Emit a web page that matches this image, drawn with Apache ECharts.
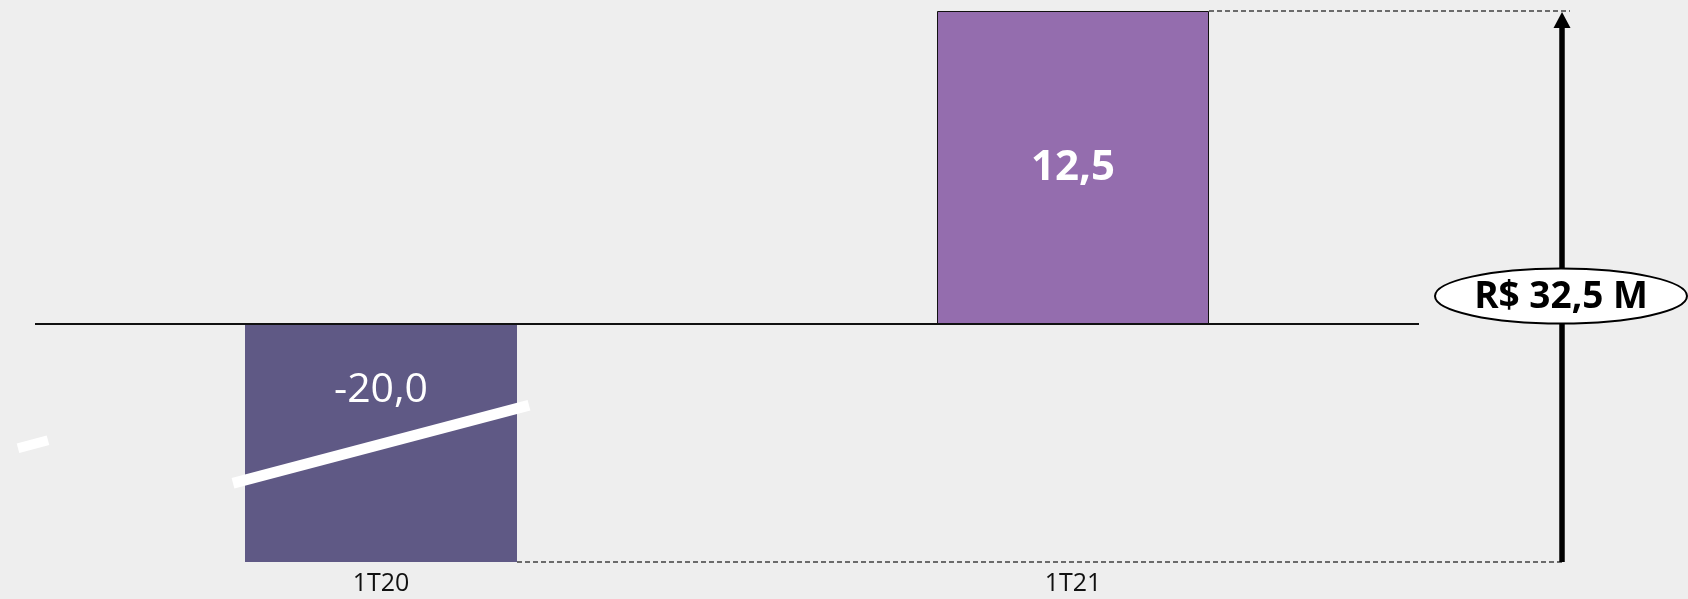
<!DOCTYPE html>
<html>
<head>
<meta charset="utf-8">
<script src="https://cdn.jsdelivr.net/npm/echarts@6/dist/echarts.min.js"></script>
<style>
  html, body { margin: 0; padding: 0; background: #eeeeee; }
  #chart { width: 1688px; height: 599px; }
</style>
</head>
<body>
<div id="chart"></div>
<script>
// dados
const categories = ['1T20', '1T21'];
const values = [-20.0, 12.5];
const totalValue = 32.5;
const axisBreak = [-15.3, -4.8];

const barColors = ['#5f5985', '#946dae'];
const fmt = v => v.toFixed(1).replace('.', ',');

const chart = echarts.init(document.getElementById('chart'));
const barWidth = 272;
const font = '"Open Sans", "Noto Sans", sans-serif';

chart.setOption({
  animation: false,
  backgroundColor: '#eeeeee',
  grid: { left: 35, right: 269, top: 11, bottom: 37 },
  xAxis: {
    type: 'category',
    data: categories,
    axisLine: { show: false, onZero: false },
    axisTick: { show: false },
    axisLabel: { color: '#111', fontSize: 25, fontFamily: font, margin: 9 }
  },
  yAxis: {
    type: 'value',
    min: -20,
    max: 12.5,
    breaks: [{ start: axisBreak[0], end: axisBreak[1], gap: 0 }],
    breakArea: { show: false },
    axisLine: { show: false },
    axisTick: { show: false },
    axisLabel: { show: false },
    splitLine: { show: false }
  },
  series: [{
    type: 'bar',
    barWidth: barWidth,
    data: values.map((v, i) => ({
      value: v,
      itemStyle: {
        color: barColors[i],
        borderColor: v > 0 ? '#111' : barColors[i],
        borderWidth: v > 0 ? 1 : 0
      },
      label: {
        show: true,
        position: 'inside',
        offset: v < 0 ? [0, -53] : [0, 0],
        color: '#fff',
        fontFamily: font,
        fontSize: v > 0 ? 42 : 41,
        fontWeight: v > 0 ? 'bold' : 'normal',
        formatter: p => fmt(p.value)
      }
    })),
    markLine: {
      silent: true,
      symbol: 'none',
      label: { show: false },
      lineStyle: { color: '#111', width: 2, type: 'solid' },
      data: [{ yAxis: 0 }]
    }
  }]
});

// anotações
const yPx = v => chart.convertToPixel({ yAxisIndex: 0 }, v);
const xPx = c => chart.convertToPixel({ xAxisIndex: 0 }, c);
const yTop = yPx(values[1]);
const yBottom = yPx(values[0]);
const yZero = yPx(0);
const yBreak = yPx(axisBreak[1]);
const xA = xPx(categories[0]);
const xB = xPx(categories[1]);
const half = barWidth / 2;
const arrowX = 1562;
const dash = { stroke: '#404040', lineWidth: 1.5, lineDash: [5, 3] };

chart.setOption({
  graphic: [
    { type: 'line', z: 10, shape: { x1: xB + half, y1: yTop, x2: 1570, y2: yTop }, style: dash },
    { type: 'line', z: 10, shape: { x1: xA + half, y1: yBottom, x2: 1564, y2: yBottom }, style: dash },
    { type: 'line', z: 11, shape: { x1: arrowX, y1: yBottom, x2: arrowX, y2: yTop + 14 }, style: { stroke: '#000', lineWidth: 5.5 } },
    { type: 'polygon', z: 11, shape: { points: [[arrowX, yTop + 1], [arrowX - 8.5, yTop + 17], [arrowX + 8.5, yTop + 17]] }, style: { fill: '#000' } },
    { type: 'ellipse', z: 12, shape: { cx: arrowX - 1, cy: yZero - 28, rx: 126, ry: 27.5 }, style: { fill: '#fff', stroke: '#000', lineWidth: 2 } },
    { type: 'text', z: 13, style: { text: 'R$ ' + fmt(totalValue) + ' M', x: arrowX - 1, y: yZero - 27, align: 'center', verticalAlign: 'middle', fill: '#000', font: 'bold 37px ' + font } },
    { type: 'line', z: 12, shape: { x1: xA - 148, y1: yBreak + 39, x2: xA + 148, y2: yBreak - 39 }, style: { stroke: '#fff', lineWidth: 11 } },
    { type: 'line', z: 12, shape: { x1: 18, y1: yBreak + 4, x2: 48, y2: yBreak - 4 }, style: { stroke: '#fff', lineWidth: 10 } }
  ]
});
</script>
</body>
</html>
